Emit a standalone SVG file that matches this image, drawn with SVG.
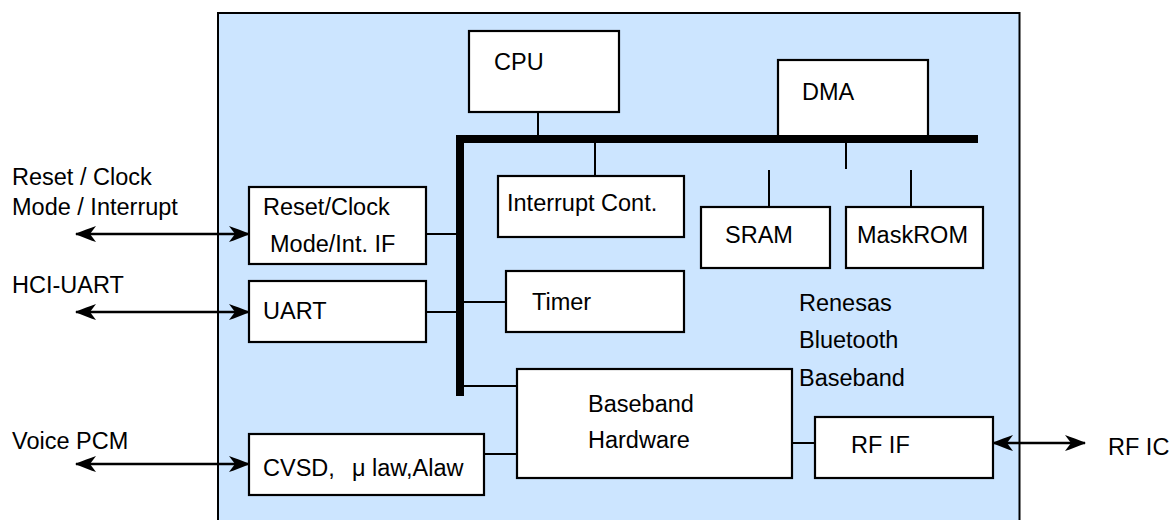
<svg xmlns="http://www.w3.org/2000/svg" width="1174" height="520" viewBox="0 0 1174 520">
  <style>
    .chip { fill: #cce5ff; stroke: #000; stroke-width: 2; }
    .box { fill: #fff; stroke: #000; stroke-width: 2.2; }
    .t { font-family: "Liberation Sans", Arial, sans-serif; font-size: 23.5px; fill: #000; }
    .wire { stroke: #000; stroke-width: 2; fill: none; }
    .bus { stroke: #000; stroke-width: 8; fill: none; stroke-linejoin: miter; }
    .io { stroke: #000; stroke-width: 2.4; fill: none; marker-start: url(#head); marker-end: url(#head); }
  </style>
  <defs>
    <marker id="head" viewBox="0 0 22 16" refX="21" refY="8" markerWidth="22" markerHeight="16" markerUnits="userSpaceOnUse" orient="auto-start-reverse">
      <path d="M22,8 Q10,3 1,0 L7,8 L1,16 Q10,13 22,8 z" fill="#000"/>
    </marker>
  </defs>

  <!-- chip outline -->
  <g id="chip">
    <rect class="chip" x="218" y="13" width="801.5" height="520"/>
    <text class="t" x="799" y="311">Renesas</text>
    <text class="t" x="799" y="348">Bluetooth</text>
    <text class="t" x="799" y="386">Baseband</text>
  </g>

  <!-- external signal labels -->
  <g id="ext-reset">
    <text class="t" x="12" y="185">Reset / Clock</text>
    <text class="t" x="12" y="215">Mode / Interrupt</text>
  </g>
  <g id="ext-hci">
    <text class="t" x="12" y="293">HCI-UART</text>
  </g>
  <g id="ext-voice">
    <text class="t" x="12" y="449">Voice PCM</text>
  </g>
  <g id="ext-rf">
    <text class="t" x="1108" y="455">RF IC</text>
  </g>

  <!-- blocks -->
  <g id="cpu">
    <rect class="box" x="469" y="31" width="150" height="81"/>
    <text class="t" x="494" y="70">CPU</text>
  </g>
  <g id="dma">
    <rect class="box" x="778" y="60" width="150" height="80"/>
    <text class="t" x="802" y="100">DMA</text>
  </g>
  <g id="intc">
    <rect class="box" x="498" y="176" width="186" height="61"/>
    <text class="t" x="507" y="211">Interrupt Cont.</text>
  </g>
  <g id="sram">
    <rect class="box" x="701" y="207" width="129" height="61"/>
    <text class="t" x="725" y="243">SRAM</text>
  </g>
  <g id="maskrom">
    <rect class="box" x="846" y="207" width="137" height="61"/>
    <text class="t" x="857" y="243">MaskROM</text>
  </g>
  <g id="rstclk">
    <rect class="box" x="249" y="187" width="177" height="77"/>
    <text class="t" x="263" y="215">Reset/Clock</text>
    <text class="t" x="270" y="252">Mode/Int. IF</text>
  </g>
  <g id="uart">
    <rect class="box" x="249" y="281" width="177" height="61"/>
    <text class="t" x="263" y="319">UART</text>
  </g>
  <g id="timer">
    <rect class="box" x="506" y="271" width="178" height="61"/>
    <text class="t" x="532" y="310">Timer</text>
  </g>
  <g id="baseband">
    <rect class="box" x="517" y="369" width="275" height="109"/>
    <text class="t" x="588" y="412">Baseband</text>
    <text class="t" x="588" y="448">Hardware</text>
  </g>
  <g id="rfif">
    <rect class="box" x="815" y="417" width="178" height="61"/>
    <text class="t" x="851" y="453">RF IF</text>
  </g>
  <g id="cvsd">
    <rect class="box" x="249" y="434" width="235" height="61"/>
    <text class="t" x="263" y="476"><tspan>CVSD,</tspan><tspan x="352">μ law,Alaw</tspan></text>
  </g>

  <!-- connectors -->
  <g id="connectors">
    <!-- internal bus -->
    <path class="bus" d="M460,396 L460,139 L978,139"/>
    <!-- bus taps -->
    <line class="wire" x1="538" y1="112" x2="538" y2="135"/>
    <line class="wire" x1="595" y1="143" x2="595" y2="176"/>
    <line class="wire" x1="846" y1="143" x2="846" y2="169"/>
    <line class="wire" x1="769" y1="170" x2="769" y2="207"/>
    <line class="wire" x1="911" y1="170" x2="911" y2="207"/>
    <line class="wire" x1="426" y1="234" x2="456" y2="234"/>
    <line class="wire" x1="426" y1="312" x2="456" y2="312"/>
    <line class="wire" x1="464" y1="302" x2="506" y2="302"/>
    <line class="wire" x1="464" y1="386" x2="517" y2="386"/>
    <line class="wire" x1="484" y1="454" x2="517" y2="454"/>
    <line class="wire" x1="792" y1="443" x2="815" y2="443"/>
    <!-- external I/O -->
    <line class="io" x1="76" y1="234" x2="249" y2="234"/>
    <line class="io" x1="76" y1="312" x2="249" y2="312"/>
    <line class="io" x1="76" y1="464" x2="249" y2="464"/>
    <line class="io" x1="993" y1="443" x2="1085" y2="443"/>
  </g>
</svg>
